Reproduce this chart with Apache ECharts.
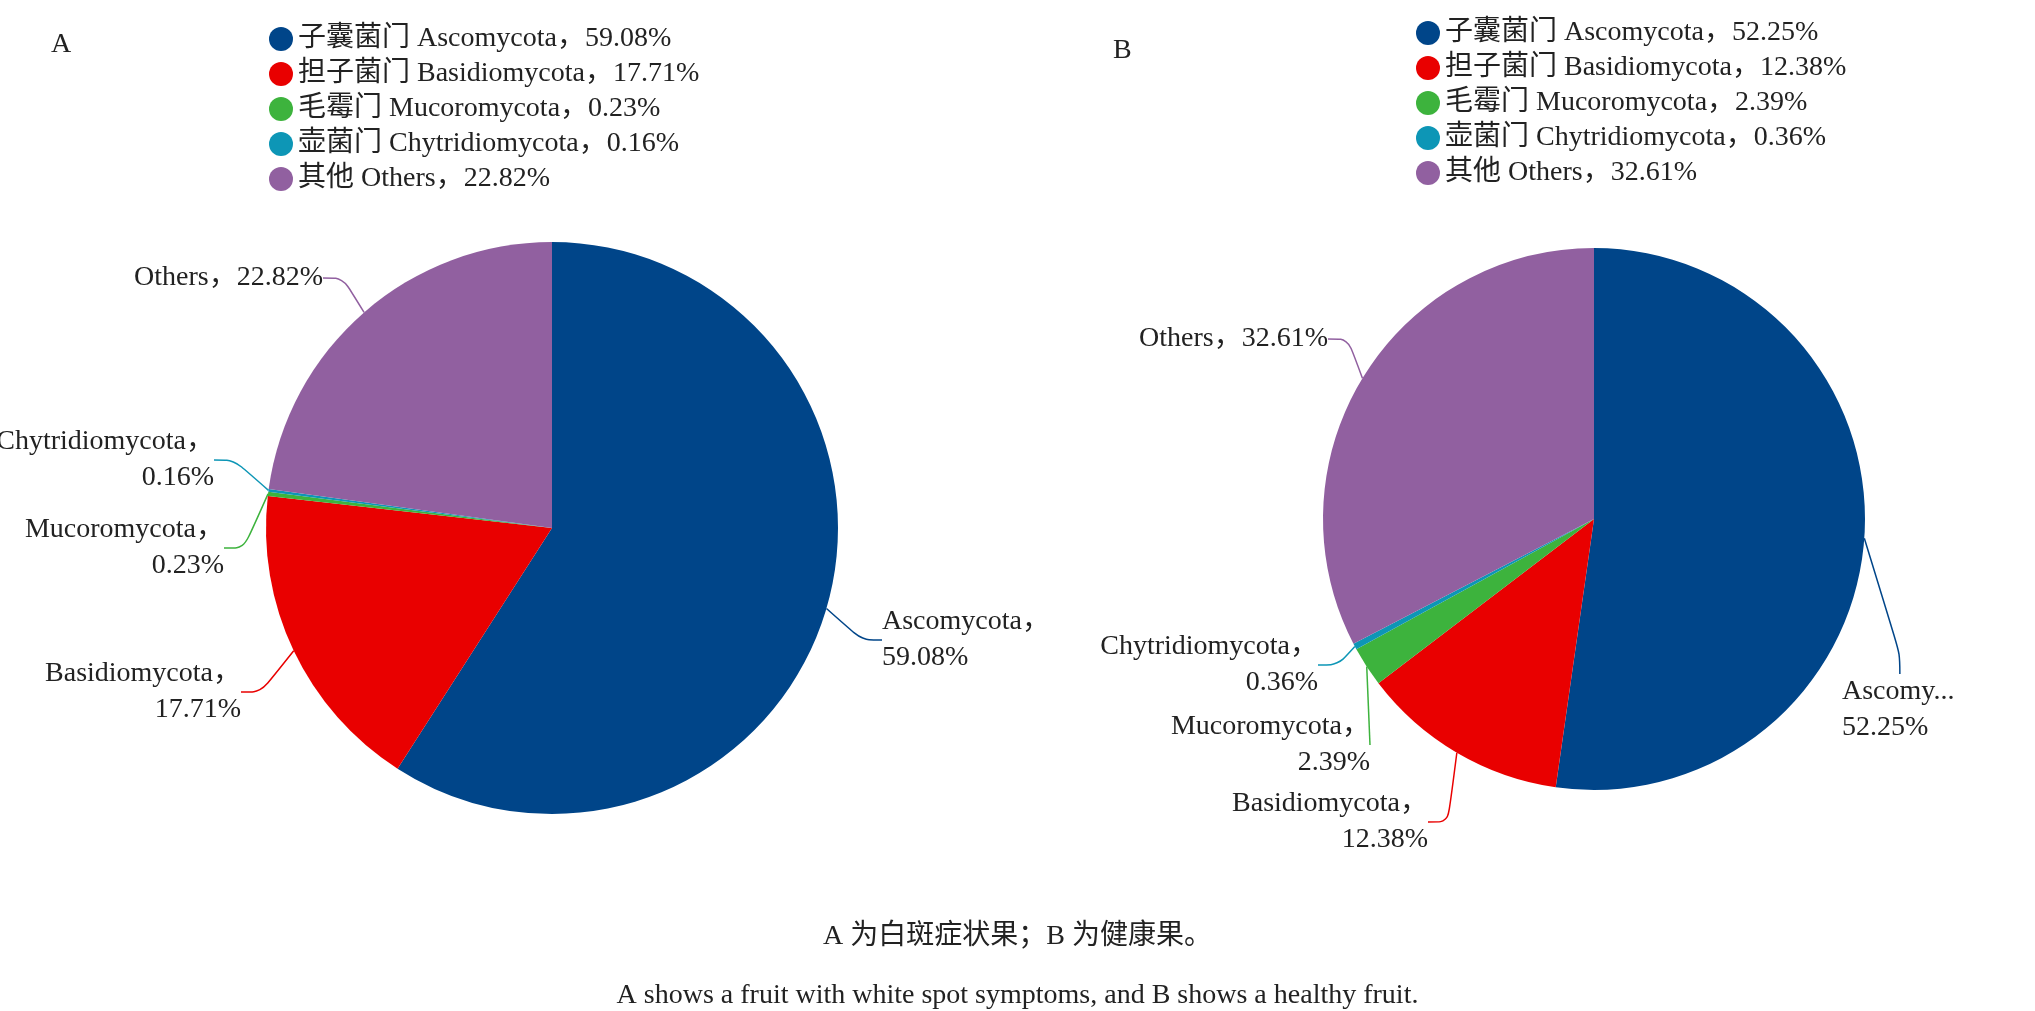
<!DOCTYPE html>
<html lang="zh">
<head>
<meta charset="UTF-8">
<title>Fungi phyla</title>
<script src="https://cdn.jsdelivr.net/npm/echarts@6/dist/echarts.min.js"></script>
<style>
  html, body { margin: 0; background: #fff; }
  #chart { width: 2035px; height: 1011px; }
</style>
</head>
<body>
<div id="chart"></div>
<script>
const cnNames = ['子囊菌门', '担子菌门', '毛霉门', '壶菌门', '其他'];
const enNames = ['Ascomycota', 'Basidiomycota', 'Mucoromycota', 'Chytridiomycota', 'Others'];
const valuesA = [59.08, 17.71, 0.23, 0.16, 22.82];
const valuesB = [52.25, 12.38, 2.39, 0.36, 32.61];
const colors = ['#004589', '#e90000', '#3db33d', '#0d96b6', '#9160a0'];
const captionCn = 'A 为白斑症状果；B 为健康果。';
const captionEn = 'A shows a fruit with white spot symptoms, and B shows a healthy fruit.';

const FONT = '"Liberation Serif", "Times New Roman", "Noto Sans CJK SC", serif';

// label anchor spots (pixel), per slice
const labelSpotsA = [
  {x: 882, y: 640, align: 'left'},
  {x: 241, y: 692, align: 'right'},
  {x: 224, y: 548, align: 'right'},
  {x: 214, y: 460, align: 'right'},
  {x: 323, y: 278, align: 'right'}
];
const labelSpotsB = [
  {x: 1842, y: 710, align: 'left'},
  {x: 1428, y: 822, align: 'right'},
  {x: 1370, y: 745, align: 'right'},
  {x: 1318, y: 665, align: 'right'},
  {x: 1328, y: 339, align: 'right'}
];

function buildData(values) {
  return values.map((v, i) => ({
    name: cnNames[i] + ' ' + enNames[i],
    value: v,
    itemStyle: {color: colors[i]},
    label: {
      formatter: i === 4 ? enNames[i] + '，' + v.toFixed(2) + '%' : enNames[i] + '，\n' + v.toFixed(2) + '%',
      align: labelSpotsA[i].align
    }
  }));
}

function pieSeries(values, center, radius, spots) {
  return {
    type: 'pie',
    center: center,
    radius: radius,
    startAngle: 90,
    clockwise: true,
    data: buildData(values),
    label: {
      show: true,
      color: '#222',
      fontFamily: FONT,
      fontSize: 28,
      lineHeight: 36
    },
    labelLine: {show: true, length: 20, length2: 20, lineStyle: {width: 1.5}, smooth: true},
    labelLayout: function (p) {
      const s = spots[p.dataIndex];
      return {x: s.x, y: s.y, align: s.align, verticalAlign: 'middle'};
    },
    emphasis: {disabled: true}
  };
}

function legend(left, top, values) {
  return {
    orient: 'vertical',
    left: left,
    top: top,
    itemGap: 7,
    icon: 'circle',
    itemWidth: 24,
    itemHeight: 24,
    textStyle: {fontFamily: FONT, fontSize: 28, color: '#222'},
    data: cnNames.map((c, i) => c + ' ' + enNames[i]),
    formatter: function (name) {
      const i = cnNames.map((c, k) => c + ' ' + enNames[k]).indexOf(name);
      return name + '，' + values[i].toFixed(2) + '%';
    }
  };
}

const chart = echarts.init(document.getElementById('chart'));
chart.setOption({
  backgroundColor: '#fff',
  animation: false,
  legend: [legend(264, 20, valuesA), legend(1411, 14, valuesB)],
  title: [
    {text: 'A', left: 46, top: 26, textStyle: {fontFamily: FONT, fontSize: 28, fontWeight: 'normal', color: '#222'}},
    {text: 'B', left: 1108, top: 32, textStyle: {fontFamily: FONT, fontSize: 28, fontWeight: 'normal', color: '#222'}},
    {text: captionCn, left: 'center', top: 918, textStyle: {fontFamily: FONT, fontSize: 28, fontWeight: 'normal', color: '#222'}},
    {text: captionEn, left: 'center', top: 977, textStyle: {fontFamily: FONT, fontSize: 28, fontWeight: 'normal', color: '#222'}}
  ],
  series: [
    pieSeries(valuesA, [552, 528], 286, labelSpotsA),
    pieSeries(valuesB, [1594, 519], 271, labelSpotsB)
  ]
});
</script>
</body>
</html>
